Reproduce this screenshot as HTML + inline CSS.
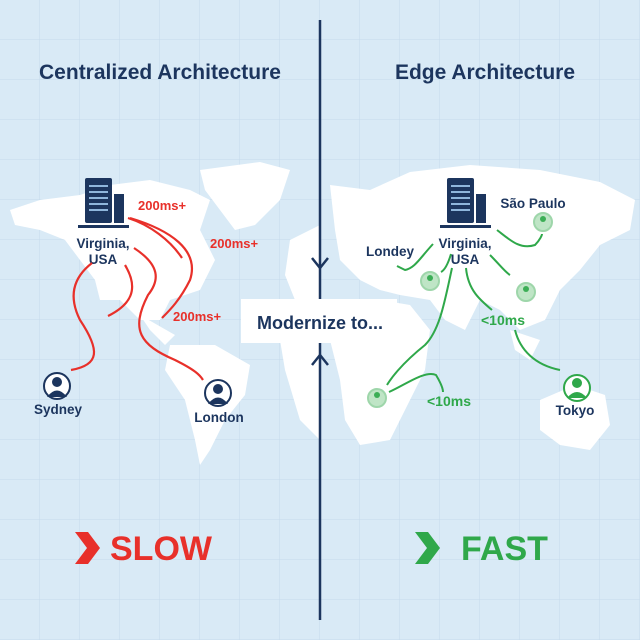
<!DOCTYPE html>
<html><head><meta charset="utf-8"><style>
html,body{margin:0;padding:0;width:640px;height:640px;overflow:hidden}
body{background:#d9eaf6;font-family:"Liberation Sans",sans-serif}
svg{position:absolute;left:0;top:0}
</style></head><body>
<svg width="640" height="640" viewBox="0 0 640 640">
<defs>
<pattern id="g" width="40" height="40" patternUnits="userSpaceOnUse">
<path d="M40 0V40M0 40H40" stroke="#c5daec" stroke-width="1" fill="none"/>
</pattern>
</defs>
<rect width="640" height="640" fill="#d9eaf6"/>
<rect width="640" height="640" fill="url(#g)"/>
<g fill="#fff">
<path d="M10 210 L40 200 L80 195 L110 185 L150 180 L190 190 L210 200 L200 230 L215 260 L200 290 L170 300 L160 320 L140 320 L120 300 L100 300 L95 280 L80 260 L65 240 L40 230 L15 225Z"/>
<path d="M200 170 L260 162 L290 170 L280 200 L255 225 L235 230 L220 210 L205 190Z"/>
<path d="M140 315 L175 335 L165 345 L150 330Z"/>
<path d="M170 345 L215 345 L250 365 L245 395 L225 420 L210 450 L200 465 L195 440 L185 400 L165 370Z"/>
<path d="M290 240 L320 225 L320 300 L295 300 L285 275Z"/>
<path d="M280 340 L320 330 L320 440 L300 420 L285 370Z"/>
</g>
<g fill="#fff">
<path d="M330 185 L370 190 L410 172 L470 165 L540 170 L600 182 L635 200 L630 230 L600 245 L580 270 L560 290 L545 320 L520 330 L500 310 L480 300 L465 330 L445 320 L430 300 L400 295 L380 290 L360 280 L340 260 L335 230Z"/>
<path d="M330 300 L380 300 L410 305 L430 330 L425 370 L405 410 L390 440 L360 445 L345 420 L340 380 L330 340Z"/>
<path d="M540 400 L575 385 L605 395 L610 425 L590 450 L560 445 L540 430Z"/>
<path d="M510 330 L540 340 L530 360 L515 350Z"/>
</g>
<line x1="320" y1="20" x2="320" y2="620" stroke="#1c355e" stroke-width="2.5"/>
<polyline points="312,258 320,268 328,258" fill="none" stroke="#1c355e" stroke-width="2.5"/>
<polyline points="312,365 320,355 328,365" fill="none" stroke="#1c355e" stroke-width="2.5"/>
<rect x="241" y="299" width="156" height="44" fill="#fff"/>
<text x="320" y="329" text-anchor="middle" font-size="18" font-weight="bold" fill="#1c355e">Modernize to...</text>
<text x="160" y="79" text-anchor="middle" font-size="21" font-weight="bold" fill="#1c355e">Centralized Architecture</text>
<text x="485" y="79" text-anchor="middle" font-size="21" font-weight="bold" fill="#1c355e">Edge Architecture</text>
<g fill="#1c355e">
<rect x="85" y="178" width="27" height="45" rx="2"/>
<rect x="114" y="194" width="10" height="29"/>
<rect x="78" y="225" width="51" height="3"/>
</g>
<g stroke="#8fb6dc" stroke-width="2"><line x1="89" y1="186" x2="108" y2="186"/><line x1="89" y1="192" x2="108" y2="192"/><line x1="89" y1="198" x2="108" y2="198"/><line x1="89" y1="204" x2="108" y2="204"/><line x1="89" y1="210" x2="108" y2="210"/></g>
<g fill="#1c355e">
<rect x="447" y="178" width="27" height="45" rx="2"/>
<rect x="476" y="194" width="10" height="29"/>
<rect x="440" y="225" width="51" height="3"/>
</g>
<g stroke="#8fb6dc" stroke-width="2"><line x1="451" y1="186" x2="470" y2="186"/><line x1="451" y1="192" x2="470" y2="192"/><line x1="451" y1="198" x2="470" y2="198"/><line x1="451" y1="204" x2="470" y2="204"/><line x1="451" y1="210" x2="470" y2="210"/></g>
<g font-size="13.5" font-weight="bold" fill="#1c355e" text-anchor="middle">
<text x="103" y="248">Virginia,</text><text x="103" y="264">USA</text>
<text x="465" y="248">Virginia,</text><text x="465" y="264">USA</text>
<text x="58" y="414">Sydney</text>
<text x="219" y="422">London</text>
<text x="533" y="208">São Paulo</text>
<text x="390" y="256">Londey</text>
<text x="575" y="415">Tokyo</text>
</g>
<g fill="none" stroke="#e8302a" stroke-width="2.2">
<path d="M92 263 C70 280 70 300 80 320 C100 350 100 365 71 370"/>
<path d="M125 265 C140 290 130 305 108 316"/>
<path d="M134 248 C160 265 160 280 148 295 C130 330 140 345 175 360 C195 370 200 375 203 380"/>
<path d="M128 218 C150 225 170 240 182 258"/>
<path d="M130 218 C170 230 200 250 190 280 C180 300 170 310 162 318"/>
</g>
<g font-size="13" fill="#e8302a" font-weight="bold">
<text x="138" y="210">200ms+</text>
<text x="210" y="248">200ms+</text>
<text x="173" y="321">200ms+</text>
</g>
<g fill="none" stroke="#2fa84a" stroke-width="2">
<path d="M433 244 C420 258 415 268 405 270 L397 266"/>
<path d="M451 254 C448 264 445 270 441 272"/>
<path d="M452 268 C445 300 440 330 425 345 C400 365 390 380 387 385"/>
<path d="M389 392 C405 385 425 370 436 375 C442 385 443 390 443 392"/>
<path d="M466 268 C468 290 480 300 492 310"/>
<path d="M497 230 C510 240 520 250 535 245 C540 240 542 235 542 234"/>
<path d="M490 255 C500 265 505 272 510 275"/>
<path d="M515 330 C520 350 535 365 560 370"/>
</g>
<g font-size="14" fill="#2fa84a" font-weight="bold">
<text x="481" y="325">&lt;10ms</text>
<text x="427" y="406">&lt;10ms</text>
</g>
<g>
<circle cx="543" cy="222" r="9" fill="#bfe5c6" stroke="#9ed6aa" stroke-width="2"/>
<circle cx="430" cy="281" r="9" fill="#bfe5c6" stroke="#9ed6aa" stroke-width="2"/>
<circle cx="526" cy="292" r="9" fill="#bfe5c6" stroke="#9ed6aa" stroke-width="2"/>
<circle cx="377" cy="398" r="9" fill="#bfe5c6" stroke="#9ed6aa" stroke-width="2"/>
<g fill="#3cae56"><circle cx="543" cy="219" r="3"/><circle cx="430" cy="278" r="3"/><circle cx="526" cy="289" r="3"/><circle cx="377" cy="395" r="3"/></g>
<circle cx="577" cy="388" r="13" fill="#fff" stroke="#2fa84a" stroke-width="2"/>
<circle cx="577" cy="383" r="5" fill="#2fa84a"/>
<path d="M567 398 Q577 386 587 398Z" fill="#2fa84a"/>
</g>
<g>
<circle cx="57" cy="386" r="13" fill="#fff" stroke="#1c355e" stroke-width="2"/>
<circle cx="57" cy="382" r="5" fill="#1c355e"/>
<path d="M47 397 Q57 384 67 397Z" fill="#1c355e"/>
<circle cx="218" cy="393" r="13" fill="#fff" stroke="#1c355e" stroke-width="2"/>
<circle cx="218" cy="389" r="5" fill="#1c355e"/>
<path d="M208 404 Q218 391 228 404Z" fill="#1c355e"/>
</g>
<polygon points="75,532 88,532 100,548 88,564 75,564 87,548" fill="#e8302a"/>
<text x="110" y="560" font-size="34" font-weight="bold" fill="#e8302a">SLOW</text>
<polygon points="415,532 428,532 440,548 428,564 415,564 427,548" fill="#2fa84a"/>
<text x="461" y="560" font-size="34" font-weight="bold" fill="#2fa84a">FAST</text>
</svg>
</body></html>
